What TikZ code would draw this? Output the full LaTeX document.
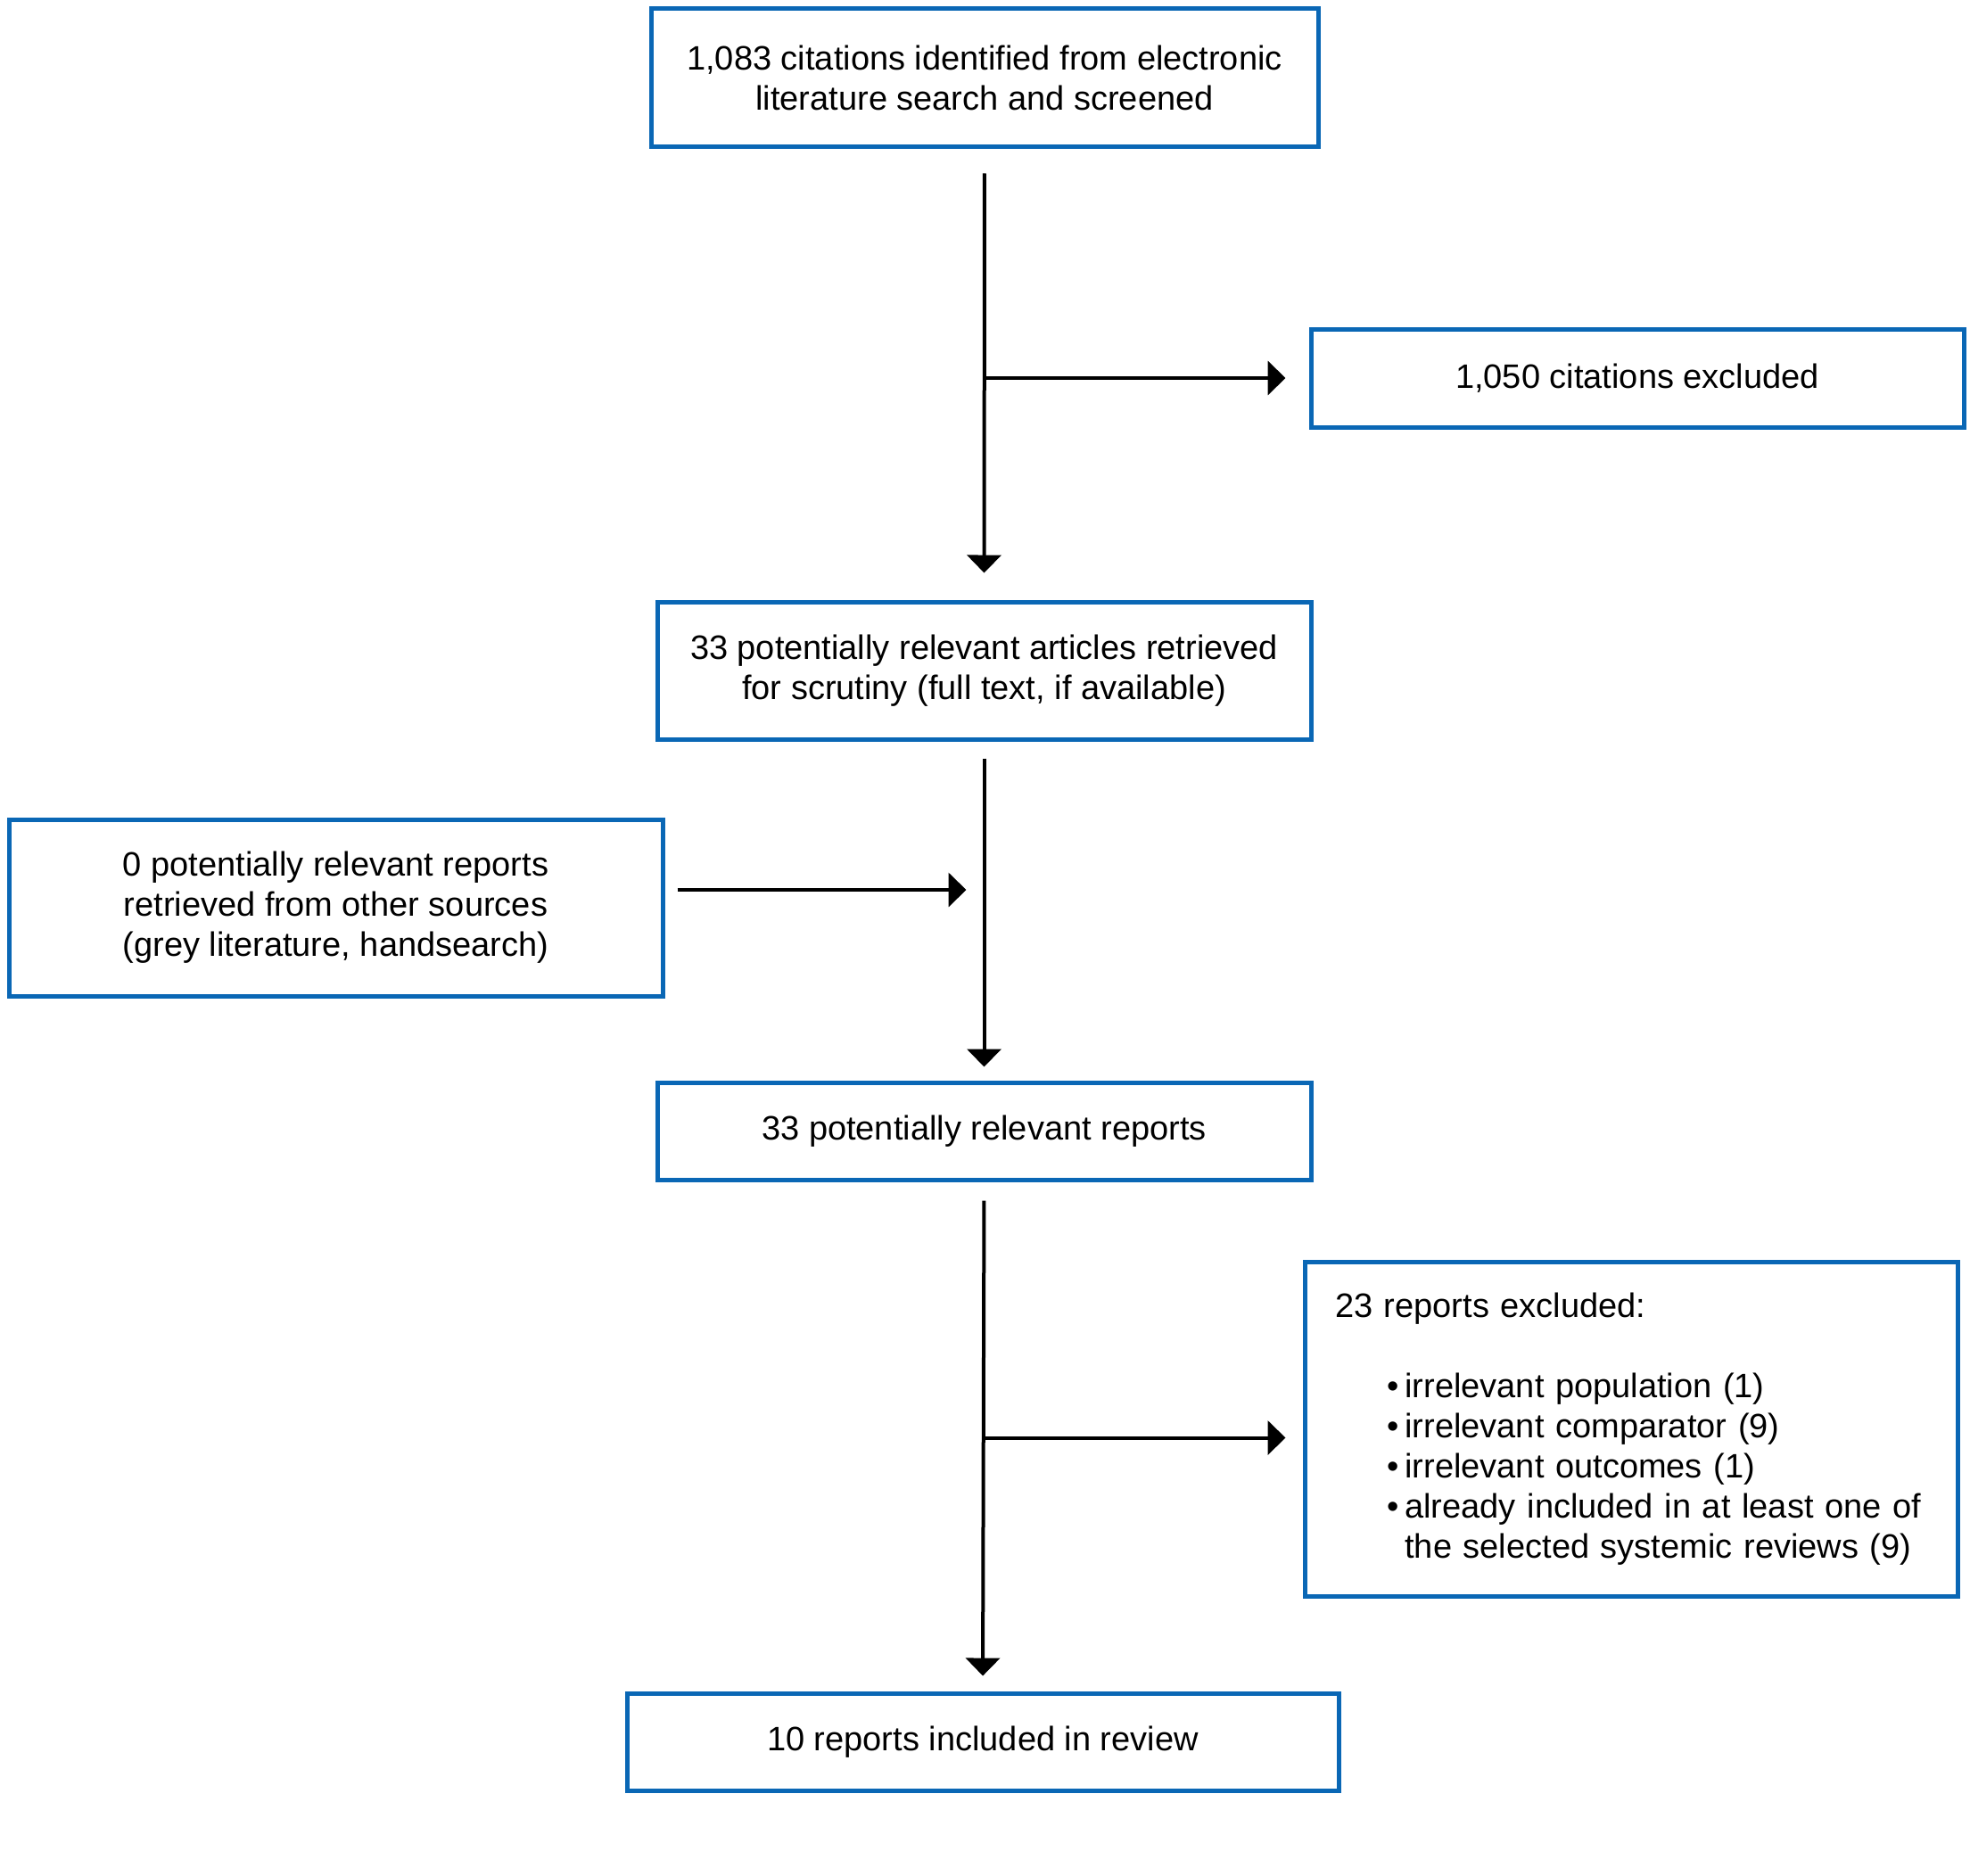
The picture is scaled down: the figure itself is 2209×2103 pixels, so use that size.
\documentclass[tikz,border=0pt]{standalone}
\usepackage{fontspec}
\setmainfont{Liberation Sans}
\usetikzlibrary{arrows.meta}
\definecolor{boxblue}{HTML}{0A67B5}
\newcommand{\bul}{\hspace*{34pt}\textbullet\kern3.5pt}
\begin{document}
\begin{tikzpicture}[x=0.5pt,y=-0.5pt,
    box/.style={draw=boxblue,line width=2.5pt,align=center,inner sep=0pt,
                font=\fontsize{19}{22.5}\selectfont},
    arr/.style={line width=2pt,-{Triangle[width=19pt,length=10pt]}}]
\useasboundingbox (0,0) rectangle (2209,2103);
\node[box,minimum width=374pt,minimum height=77.5pt] (top) at (1104,87.5)
    {1,083 citations identified from electronic\\literature search and screened};
\node[box,minimum width=366pt,minimum height=55pt] (excl1) at (1836,424)
    {1,050 citations excluded};
\node[box,minimum width=366.5pt,minimum height=77pt] (articles) at (1103.5,752)
    {33 potentially relevant articles retrieved\\for scrutiny (full text, if available)};
\node[box,minimum width=366.5pt,minimum height=99pt] (other) at (376.5,1018)
    {0 potentially relevant reports\\retrieved from other sources\\(grey literature, handsearch)};
\node[box,minimum width=366.5pt,minimum height=54.5pt] (reports) at (1103.5,1268.5)
    {33 potentially relevant reports};
\node[box,minimum width=366pt,minimum height=187.5pt,align=left,
      text width=342pt,inner xsep=12pt] (excl2) at (1829,1602.5)
    {\hspace*{5pt}23 reports excluded:\\[22.5pt]
     \bul irrelevant population (1)\\
     \bul irrelevant comparator (9)\\
     \bul irrelevant outcomes (1)\\
     \bul already included in at least one of\\
     \hspace*{34pt}\phantom{\textbullet}\kern3.5pt the selected systemic reviews (9)};
\node[box,minimum width=399pt,minimum height=54.5pt] (incl) at (1102,1953.5)
    {10 reports included in review};
%first step
\draw[arr,shorten <=13.5pt,shorten >=15pt] (top.south) -- (articles.north);
\draw[arr,shorten >=13pt] (top.south |- excl1.west) -- (excl1.west);
%second step
\coordinate (join) at (articles.south |- other.east);
\draw[arr,shorten <=9.5pt,shorten >=7.5pt] (articles.south) -- (reports.north);
\draw[arr,shorten <=7pt,shorten >=10pt] ([yshift=10pt]other.east) -- ([yshift=10pt]join);
%third step
\draw[arr,shorten <=10.5pt,shorten >=8.5pt] (reports.south) -- (incl.north);
\draw[arr,shorten >=9.5pt] ([yshift=-5pt]reports.south |- excl2.west) -- ([yshift=-5pt]excl2.west);
\end{tikzpicture}
\end{document}
